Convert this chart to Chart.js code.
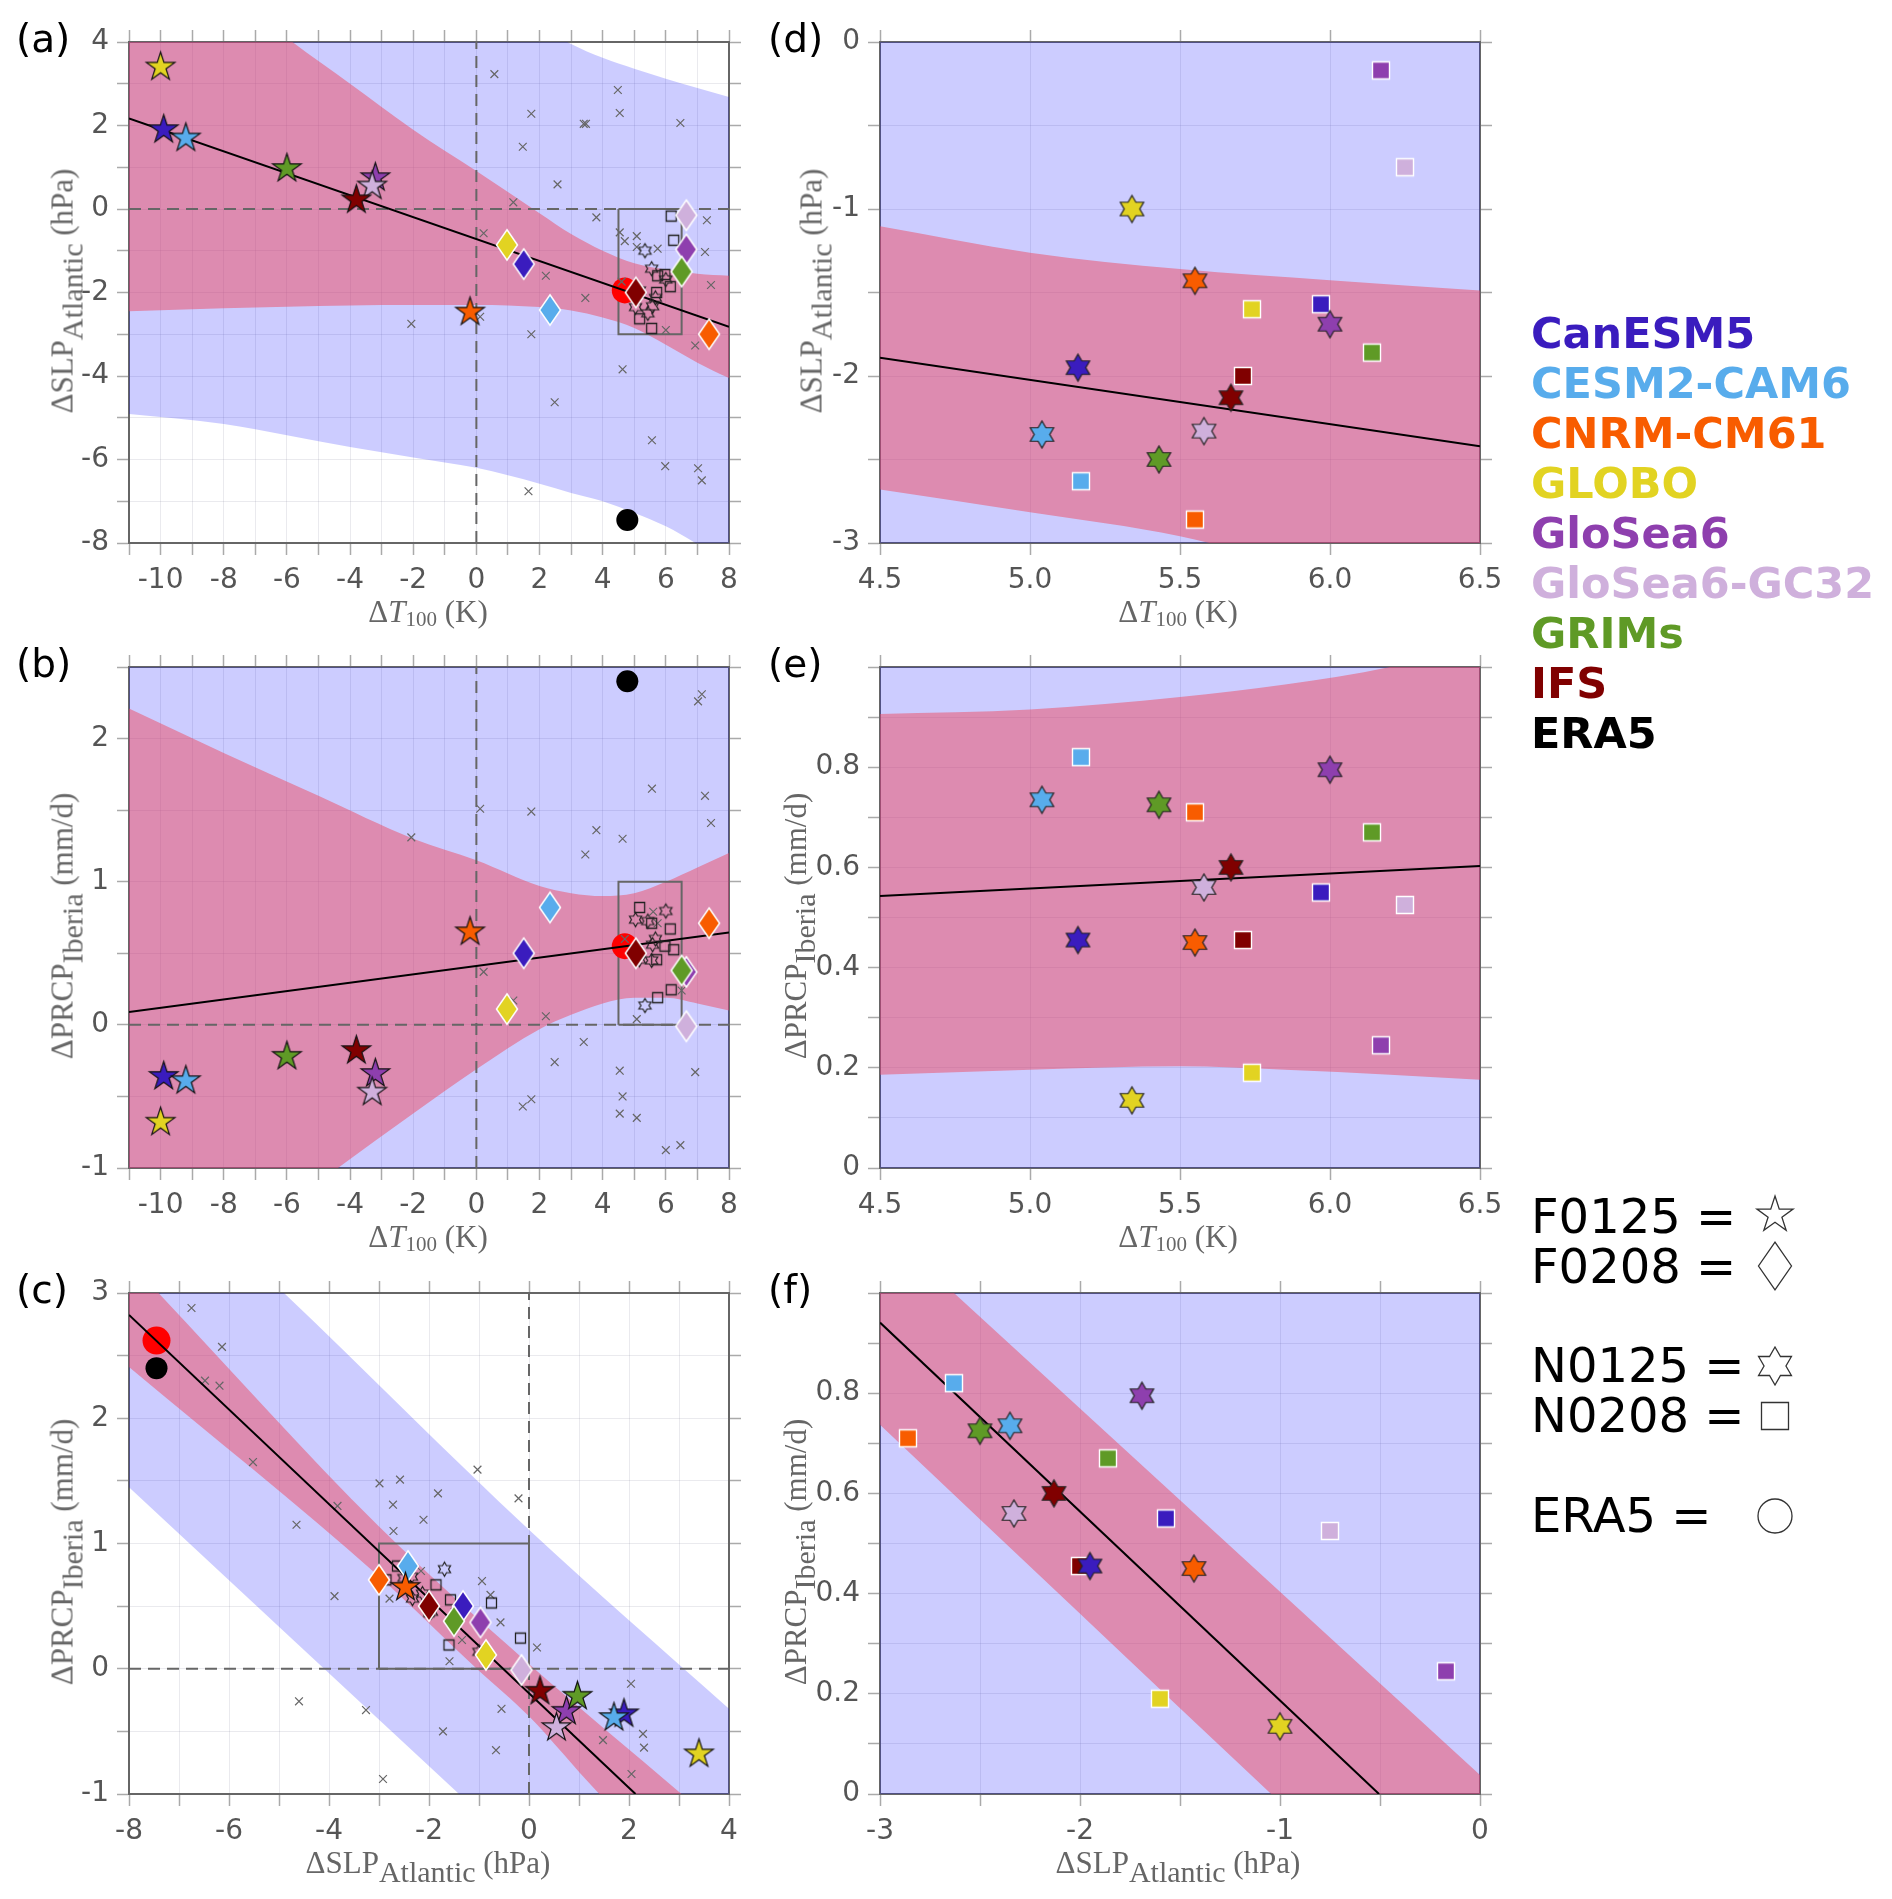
<!DOCTYPE html>
<html><head><meta charset="utf-8">
<script src="https://cdn.jsdelivr.net/npm/chart.js@4"></script>
<style>
html,body{margin:0;padding:0;background:#fff}
#page{position:relative;width:1892px;height:1899px;overflow:hidden;font-family:'DejaVu Sans',sans-serif}
canvas{position:absolute}
.t{position:absolute;white-space:nowrap;line-height:1}
.letter{font-size:39px;color:#000}
.atitle{font-family:'Liberation Serif',serif;font-size:31px;color:#666;transform:translate(-50%,-50%)}
.atitle.rot{transform:translate(-50%,-50%) rotate(-90deg)}
.atitle sub{font-size:30px;vertical-align:-0.32em;line-height:0}
.atitle sub.small{font-size:21px;vertical-align:-0.2em}
.model{font-weight:bold;font-size:43px;left:1531px;transform:translateY(-50%)}
.sym{font-size:48px;left:1531px;color:#000}
</style></head><body><div id="page"></div>
<script>
// ---- models ----
const models=['CanESM5','CESM2-CAM6','CNRM-CM61','GLOBO','GloSea6','GloSea6-GC32','GRIMs','IFS','ERA5'];
const modelColors=['#3A1CBE','#58ACEC','#F85C00','#E2D322','#8E3FAE','#CFB0DC','#5F9A26','#800000','#000000'];
// ---- experiment values, one per model (first eight models) ----
const T_F0125=[-9.9,-9.2,-0.2,-10,-3.2,-3.3,-6,-3.8];
const SLP_F0125=[1.9,1.7,-2.47,3.4,0.75,0.55,0.97,0.22];
const PRCP_F0125=[-0.36,-0.39,0.65,-0.68,-0.34,-0.47,-0.22,-0.18];
const T_F0208=[1.5,2.33,7.37,0.97,6.65,6.65,6.5,5.05];
const SLP_F0208=[-1.32,-2.42,-3.0,-0.86,-0.97,-0.15,-1.5,-2.0];
const PRCP_F0208=[0.5,0.82,0.71,0.11,0.37,-0.01,0.38,0.5];
const T_N0125=[5.16,5.04,5.55,5.34,6.0,5.58,5.43,5.67];
const SLP_N0125=[-1.95,-2.35,-1.43,-1.0,-1.69,-2.33,-2.5,-2.13];
const PRCP_N0125=[0.455,0.735,0.45,0.135,0.795,0.56,0.725,0.6];
const T_N0208=[5.97,5.17,5.55,5.74,6.17,6.25,6.14,5.71];
const SLP_N0208=[-1.57,-2.63,-2.86,-1.6,-0.17,-0.75,-1.86,-2.0];
const PRCP_N0208=[0.55,0.82,0.71,0.19,0.245,0.525,0.67,0.455];
// ---- ERA5 (black) and large red points per panel ----
const era5_T=4.78, era5_SLP=-7.45, era5_PRCP=2.4;
const red_a=[4.7,-1.95], red_b=[4.7,0.55], red_c=[-7.45,2.62];
// ---- small grey crosses ----
const crossA=[[0.57,3.23],[4.48,2.85],[4.54,2.3],[1.74,2.28],[6.46,2.06],[3.4,2.04],[3.47,2.04],[1.47,1.49],[2.57,0.59],[1.17,0.16],[3.8,-0.2],[7.3,-0.27],[0.23,-0.58],[4.54,-0.56],[4.7,-0.77],[5.08,-0.65],[5.08,-0.91],[5.74,-0.95],[7.24,-1.03],[2.2,-1.6],[7.43,-1.82],[3.45,-2.13],[4.6,-1.74],[-2.06,-2.75],[0.12,-2.58],[1.74,-3.0],[6.0,-2.9],[6.93,-3.27],[4.63,-3.84],[2.48,-4.63],[5.56,-5.54],[5.98,-6.16],[7.02,-6.21],[7.14,-6.5],[1.65,-6.76]];
const crossB=[[0.12,1.51],[1.74,1.49],[-2.06,1.31],[4.63,1.3],[3.8,1.36],[3.45,1.19],[5.56,1.65],[7.24,1.6],[7.43,1.41],[7.02,2.26],[7.14,2.31],[0.23,0.37],[1.17,0.17],[2.2,0.06],[3.4,-0.12],[2.48,-0.26],[4.54,-0.32],[6.93,-0.33],[4.63,-0.5],[1.74,-0.52],[1.47,-0.57],[4.54,-0.62],[5.08,-0.65],[6.46,-0.84],[6.0,-0.875],[5.08,0.04],[6.5,0.24],[4.7,0.6],[5.6,0.79],[5.74,0.71]];
const crossC=[[-6.75,2.88],[-6.14,2.57],[-6.48,2.3],[-6.19,2.26],[-5.52,1.65],[-2.99,1.48],[-2.58,1.51],[-1.03,1.59],[-1.82,1.4],[-0.21,1.36],[-2.72,1.31],[-3.83,1.3],[-4.65,1.15],[-2.11,1.19],[-2.71,1.1],[-3.89,0.58],[-2.79,0.56],[-2.16,0.78],[-0.94,0.7],[-0.77,0.59],[-0.57,0.37],[-1.34,0.23],[0.16,0.17],[-1.59,0.06],[-4.6,-0.26],[-3.26,-0.33],[-0.55,-0.32],[-1.72,-0.5],[-0.66,-0.65],[-2.92,-0.88],[2.04,-0.12],[2.28,-0.52],[2.3,-0.63],[1.48,-0.57],[2.05,-0.84]];
// ---- band edges ----
const bandX_a=[-11,-8,-6,-4,-2,0,2,3,4,5,6,7,8];
const pinkU_a=[7.0,5.3,4.1,3.0,1.9,0.91,-0.1,-0.6,-1.0,-1.3,-1.45,-1.55,-1.6];
const pinkL_a=[-2.45,-2.38,-2.34,-2.31,-2.3,-2.3,-2.35,-2.43,-2.6,-2.85,-3.25,-3.68,-4.05];
const blueU_a=[10.5,9,8,7,6,5.2,4.4,3.95,3.62,3.36,3.12,2.9,2.68];
const blueL_a=[-4.91,-5.15,-5.42,-5.7,-5.95,-6.2,-6.58,-6.8,-7.0,-7.28,-7.6,-8.03,-8.5];
const bandX_b=[-11,-8,-5,-2,0,2,3,4,5,6,7,8];
const pinkU_b=[2.21,1.9,1.6,1.3,1.15,0.97,0.92,0.9,0.92,1.0,1.1,1.2];
const pinkL_b=[-2.0,-1.6,-1.1,-0.62,-0.31,-0.03,0.07,0.15,0.19,0.19,0.15,0.1];
const blueU_b=[3.5,3.5,3.5,3.5,3.5,3.5,3.5,3.5,3.5,3.5,3.5,3.5];
const blueL_b=[-2.5,-2.5,-2.5,-2.5,-2.5,-2.5,-2.5,-2.5,-2.5,-2.5,-2.5,-2.5];
const bandXp_c=[-8,-7.41,-3,0,3.05,4];
const pinkU_c=[3.25,3,1.135,0.038,-1,-1.33];
const bandXq_c=[-8,-3,-1.044,0,1.36,4];
const pinkL_c=[2.41,0.737,0,-0.38,-0.98,-2.0];
const bandXr_c=[-8,-4.9,0,4];
const blueU_c=[4.16,3,1.11,-0.32];
const bandXs_c=[-8,-1.4,4];
const blueL_c=[1.45,-1,-3];
const bandX_d=[4.5,5,5.5,6,6.5];
const pinkU_d=[-1.104,-1.262,-1.36,-1.426,-1.488];
const pinkL_d=[-2.68,-2.816,-2.96,-3.2,-3.5];
const bandX_e=[4.5,5,5.5,5.85,6.2,6.5];
const pinkU_e=[0.906,0.915,0.94,0.965,1.0,1.05];
const pinkL_e=[0.186,0.196,0.203,0.196,0.186,0.176];
const bandXu_f=[-3,-2.63,0];const pinkU_f=[1.135,1,0.038];
const bandXl_f=[-3,-1.044,0];const pinkL_f=[0.737,0,-0.39];
// ---- regression lines ----
const reg_a=[[-11,2.17],[8,-2.82]], reg_b=[[-11,0.09],[8,0.645]], reg_c=[[-8,2.825],[2.13,-1]];
const reg_d=[[4.5,-1.89],[6.5,-2.42]], reg_e=[[4.5,0.543],[6.5,0.603]], reg_f=[[-3,0.941],[-0.505,0]];
// ---- ticks ----
const xT_T=[-11,-10,-9,-8,-7,-6,-5,-4,-3,-2,-1,0,1,2,3,4,5,6,7,8];
const xL_T=['','-10','','-8','','-6','','-4','','-2','','0','','2','','4','','6','','8'];
const yT_a=[-8,-7,-6,-5,-4,-3,-2,-1,0,1,2,3,4];
const yL_a=['-8','','-6','','-4','','-2','','0','','2','','4'];
const yT_b=[-1,-0.5,0,0.5,1,1.5,2,2.5];
const yL_b=['-1','','0','','1','','2',''];
const xT_c=[-8,-7,-6,-5,-4,-3,-2,-1,0,1,2,3,4];
const xL_c=['-8','','-6','','-4','','-2','','0','','2','','4'];
const yT_c=[-1,-0.5,0,0.5,1,1.5,2,2.5,3];
const yL_c=['-1','','0','','1','','2','','3'];
const xT_d=[4.5,5,5.5,6,6.5];
const xL_d=['4.5','5.0','5.5','6.0','6.5'];
const yT_d=[-3,-2.5,-2,-1.5,-1,-0.5,0];
const yL_d=['-3','','-2','','-1','','0'];
const yT_e=[0,0.1,0.2,0.3,0.4,0.5,0.6,0.7,0.8,0.9,1];
const yL_e=['0','','0.2','','0.4','','0.6','','0.8','',''];
const xT_f=[-3,-2.5,-2,-1.5,-1,-0.5,0];
const xL_f=['-3','','-2','','-1','','0'];

const PW=600,PH=501,ML=100,MR=60,MT=42,MB=70;
const BLUE='rgba(0,0,255,0.2)',PINK='rgba(238,74,97,0.5)';
const page=document.getElementById('page');
Chart.defaults.font.family="'DejaVu Sans'";

function poly(c,pts){c.beginPath();pts.forEach((p,i)=>i?c.lineTo(p[0],p[1]):c.moveTo(p[0],p[1]));c.closePath();}
function starPts(cx,cy,r,n,inner){const a=[];for(let i=0;i<2*n;i++){const R=i%2?inner:r,t=-Math.PI/2+i*Math.PI/n;a.push([cx+R*Math.cos(t),cy+R*Math.sin(t)]);}return a;}
function shapePts(shape,cx,cy,s){
  if(shape==='star')return starPts(cx,cy,s,5,s*0.382);
  if(shape==='hex')return starPts(cx,cy,s,6,s*0.577);
  if(shape==='diamond')return [[cx,cy-s*1.45],[cx+s,cy],[cx,cy+s*1.45],[cx-s,cy]];
  return [[cx-s,cy-s],[cx+s,cy-s],[cx+s,cy+s],[cx-s,cy+s]];
}
function marker(shape,s,fill,stroke,lw){
  const c=document.createElement('canvas');const d=Math.ceil(s*3+8);c.width=d;c.height=d;
  const x=c.getContext('2d');poly(x,shapePts(shape,d/2,d/2,s));
  if(fill){x.fillStyle=fill;x.fill();}
  x.strokeStyle=stroke;x.lineWidth=lw;x.lineJoin='miter';x.stroke();return c;
}
const pairs=(xs,ys)=>xs.map((v,i)=>({x:v,y:ys[i]}));
const pts=a=>a.map(p=>({x:p[0],y:p[1]}));
const edge=(xs,ys,fillIt,col)=>({data:pairs(xs,ys),pointRadius:0,borderWidth:0,borderColor:'transparent',
  cubicInterpolationMode:'monotone',fill:fillIt?'+1':false,backgroundColor:col});
const stroke=(a,col,w,dash)=>({data:pts(a),pointRadius:0,borderColor:col,borderWidth:w,borderDash:dash||[],fill:false,tension:0});
const scatter=(data,styles,extra)=>Object.assign({data,showLine:false,fill:false,pointStyle:styles,pointRadius:10,pointBorderWidth:0,pointHoverRadius:10},extra||{});

function axis(pos,min,max,ticks,labels,fixed,primary){
  const horiz=pos==='top'||pos==='bottom';
  return {type:'linear',position:pos,min,max,offset:false,
    afterBuildTicks:s=>{s.ticks=ticks.map(v=>({value:v}));},
    afterFit:s=>{if(horiz)s.height=fixed;else s.width=fixed;},
    border:{display:true,color:'#666',width:2},
    grid:{drawOnChartArea:!!primary,drawTicks:true,tickLength:12,color:'rgba(90,90,120,0.13)',lineWidth:1,tickColor:'#aaa',tickWidth:1.5},
    ticks:{display:!!primary,autoSkip:false,maxRotation:0,minRotation:0,padding:horiz?9:8,color:'#555',font:{size:28},
      callback:(v,i)=>labels[i]}};
}
function makePanel(left,top,xa,ya,datasets){
  const cv=document.createElement('canvas');
  cv.width=PW+ML+MR;cv.height=PH+MT+MB;
  cv.style.left=(left-ML)+'px';cv.style.top=(top-MT)+'px';cv.style.width=cv.width+'px';cv.style.height=cv.height+'px';
  page.appendChild(cv);
  datasets.forEach((d,i)=>{d.order=-i;});
  new Chart(cv,{type:'line',data:{datasets},options:{responsive:false,animation:false,devicePixelRatio:1,
    parsing:{xAxisKey:'x',yAxisKey:'y'},layout:{padding:0},events:[],
    plugins:{legend:{display:false},tooltip:{enabled:false},title:{display:false}},
    scales:{
      x:axis('bottom',xa.min,xa.max,xa.t,xa.l,MB,true),
      y:axis('left',ya.min,ya.max,ya.t,ya.l,ML,true),
      xTop:axis('top',xa.min,xa.max,xa.t,xa.l,MT,false),
      yRight:axis('right',ya.min,ya.max,ya.t,ya.l,MR,false)
    }}});
}
const cols8=modelColors.slice(0,8);
const stF=cols8.map(c=>marker('star',15,c,'#111',1.2));
const diaF=cols8.map(c=>marker('diamond',10.5,c,'#fff',1.5));
const hollowHex=marker('hex',7,null,'#222',1.2);
const hollowSq=marker('square',5,null,'#222',1.3);
const hexN=cols8.map(c=>marker('hex',13.5,c,'#222',1.2));
const sqN=cols8.map(c=>marker('square',8.5,c,'#fff',1.4));
const crossSet=a=>scatter(pts(a),'crossRot',{pointRadius:5.5,pointBorderWidth:1.2,pointBorderColor:'#666',pointBackgroundColor:'transparent'});
const circle=(p,r,c)=>scatter([{x:p[0],y:p[1]}],'circle',{pointRadius:r,pointBackgroundColor:c,pointBorderColor:c,pointBorderWidth:0});

function overview(sets){ // panels a, b, c
  return [
    edge(sets.bx,sets.bu,true,BLUE),edge(sets.bxl,sets.bl,false,BLUE),
    edge(sets.px,sets.pu,true,PINK),edge(sets.pxl,sets.pl,false,PINK),
    stroke(sets.v0,'#666',2,[12,7]),stroke(sets.h0,'#666',2,[12,7]),
    stroke(sets.box,'#666',2),
    circle(sets.red,sets.redR,'#ff0000'),
    crossSet(sets.cross),
    stroke(sets.reg,'#000',2),
    circle(sets.era,11,'#000'),
    scatter(pairs(sets.nsx,sets.nsy),hollowSq),
    scatter(pairs(sets.nhx,sets.nhy),hollowHex),
    scatter(pairs(sets.dx,sets.dy),diaF),
    scatter(pairs(sets.fx,sets.fy),stF)
  ];
}
function detail(sets){ // panels d, e, f
  return [
    edge(sets.bx,sets.bu,true,BLUE),edge(sets.bx,sets.bl,false,BLUE),
    edge(sets.px,sets.pu,true,PINK),edge(sets.pxl,sets.pl,false,PINK),
    stroke(sets.reg,'#000',2),
    scatter(pairs(sets.sx,sets.sy),sqN),
    scatter(pairs(sets.hx,sets.hy),hexN)
  ];
}
const LX=129,RX=880,Y1=42,Y2=667,Y3=1293;
const xAxT={min:-11,max:8,t:xT_T,l:xL_T};
makePanel(LX,Y1,xAxT,{min:-8,max:4,t:yT_a,l:yL_a},overview({bx:bandX_a,bxl:bandX_a,bu:blueU_a,bl:blueL_a,px:bandX_a,pxl:bandX_a,pu:pinkU_a,pl:pinkL_a,
  v0:[[0,-8],[0,4]],h0:[[-11,0],[8,0]],box:[[4.5,0],[6.5,0],[6.5,-3],[4.5,-3],[4.5,0]],red:red_a,redR:13,cross:crossA,reg:reg_a,era:[era5_T,era5_SLP],
  nsx:T_N0208,nsy:SLP_N0208,nhx:T_N0125,nhy:SLP_N0125,dx:T_F0208,dy:SLP_F0208,fx:T_F0125,fy:SLP_F0125}));
makePanel(LX,Y2,xAxT,{min:-1,max:2.5,t:yT_b,l:yL_b},overview({bx:bandX_b,bxl:bandX_b,bu:blueU_b,bl:blueL_b,px:bandX_b,pxl:bandX_b,pu:pinkU_b,pl:pinkL_b,
  v0:[[0,-1],[0,2.5]],h0:[[-11,0],[8,0]],box:[[4.5,0],[6.5,0],[6.5,1],[4.5,1],[4.5,0]],red:red_b,redR:13,cross:crossB,reg:reg_b,era:[era5_T,era5_PRCP],
  nsx:T_N0208,nsy:PRCP_N0208,nhx:T_N0125,nhy:PRCP_N0125,dx:T_F0208,dy:PRCP_F0208,fx:T_F0125,fy:PRCP_F0125}));
makePanel(LX,Y3,{min:-8,max:4,t:xT_c,l:xL_c},{min:-1,max:3,t:yT_c,l:yL_c},overview({bx:bandXr_c,bxl:bandXs_c,bu:blueU_c,bl:blueL_c,px:bandXp_c,pxl:bandXq_c,pu:pinkU_c,pl:pinkL_c,
  v0:[[0,-1],[0,3]],h0:[[-8,0],[4,0]],box:[[-3,0],[0,0],[0,1],[-3,1],[-3,0]],red:red_c,redR:14,cross:crossC,reg:reg_c,era:[era5_SLP,era5_PRCP],
  nsx:SLP_N0208,nsy:PRCP_N0208,nhx:SLP_N0125,nhy:PRCP_N0125,dx:SLP_F0208,dy:PRCP_F0208,fx:SLP_F0125,fy:PRCP_F0125}));
const xAxD={min:4.5,max:6.5,t:xT_d,l:xL_d};
makePanel(RX,Y1,xAxD,{min:-3,max:0,t:yT_d,l:yL_d},detail({bx:[4.5,6.5],bu:[1,1],bl:[-5,-5],px:bandX_d,pxl:bandX_d,pu:pinkU_d,pl:pinkL_d,reg:reg_d,sx:T_N0208,sy:SLP_N0208,hx:T_N0125,hy:SLP_N0125}));
makePanel(RX,Y2,xAxD,{min:0,max:1,t:yT_e,l:yL_e},detail({bx:[4.5,6.5],bu:[2,2],bl:[-1,-1],px:bandX_e,pxl:bandX_e,pu:pinkU_e,pl:pinkL_e,reg:reg_e,sx:T_N0208,sy:PRCP_N0208,hx:T_N0125,hy:PRCP_N0125}));
makePanel(RX,Y3,{min:-3,max:0,t:xT_f,l:xL_f},{min:0,max:1,t:yT_e,l:yL_e},detail({bx:[-3,0],bu:[2,2],bl:[-1,-1],px:bandXu_f,pxl:bandXl_f,pu:pinkU_f,pl:pinkL_f,reg:reg_f,sx:SLP_N0208,sy:PRCP_N0208,hx:SLP_N0125,hy:PRCP_N0125}));

// ---- text ----
function text(cls,html,x,y,color){const d=document.createElement('div');d.className='t '+cls;d.innerHTML=html;d.style.left=x+'px';d.style.top=y+'px';if(color)d.style.color=color;page.appendChild(d);return d;}
[['(a)',16,19],['(b)',16,644],['(c)',16,1270],['(d)',768,19],['(e)',768,644],['(f)',768,1270]].forEach(a=>text('letter',a[0],a[1],a[2]));
const tT='Δ<i>T</i><sub class="small">100</sub> (K)',
      tS='ΔSLP<sub>Atlantic</sub> (hPa)',
      tP='ΔPRCP<sub>Iberia</sub> (mm/d)';
text('atitle',tT,428,611);text('atitle',tT,428,1236);text('atitle',tS,428,1862);
text('atitle',tT,1178,611);text('atitle',tT,1178,1236);text('atitle',tS,1178,1862);
text('atitle rot',tS,62,291);text('atitle rot',tP,62,926);text('atitle rot',tP,62,1552);
text('atitle rot',tS,811,291);text('atitle rot',tP,795,926);text('atitle rot',tP,795,1552);
models.forEach((m,i)=>text('model',m,1531,333+i*50,modelColors[i]));
const symRows=[['F0125 =',1198,'star',1215],['F0208 =',1248,'diamond',1266],['N0125 =',1347,'hex',1366],['N0208 =',1397,'square',1416],['ERA5 =',1497,'circle',1516]];
symRows.forEach(r=>{
  text('sym',r[0],1531,r[1]-6);
  const c=document.createElement('canvas');c.width=60;c.height=60;c.style.left=(1775-30)+'px';c.style.top=(r[3]-30)+'px';
  const x=c.getContext('2d');x.strokeStyle='#333';x.lineWidth=1.3;
  if(r[2]==='circle'){x.beginPath();x.arc(30,30,17,0,Math.PI*2);}
  else poly(x,shapePts(r[2],30,30,r[2]==='diamond'?16.5:r[2]==='square'?13.5:19));
  x.stroke();page.appendChild(c);
});
</script></body></html>
